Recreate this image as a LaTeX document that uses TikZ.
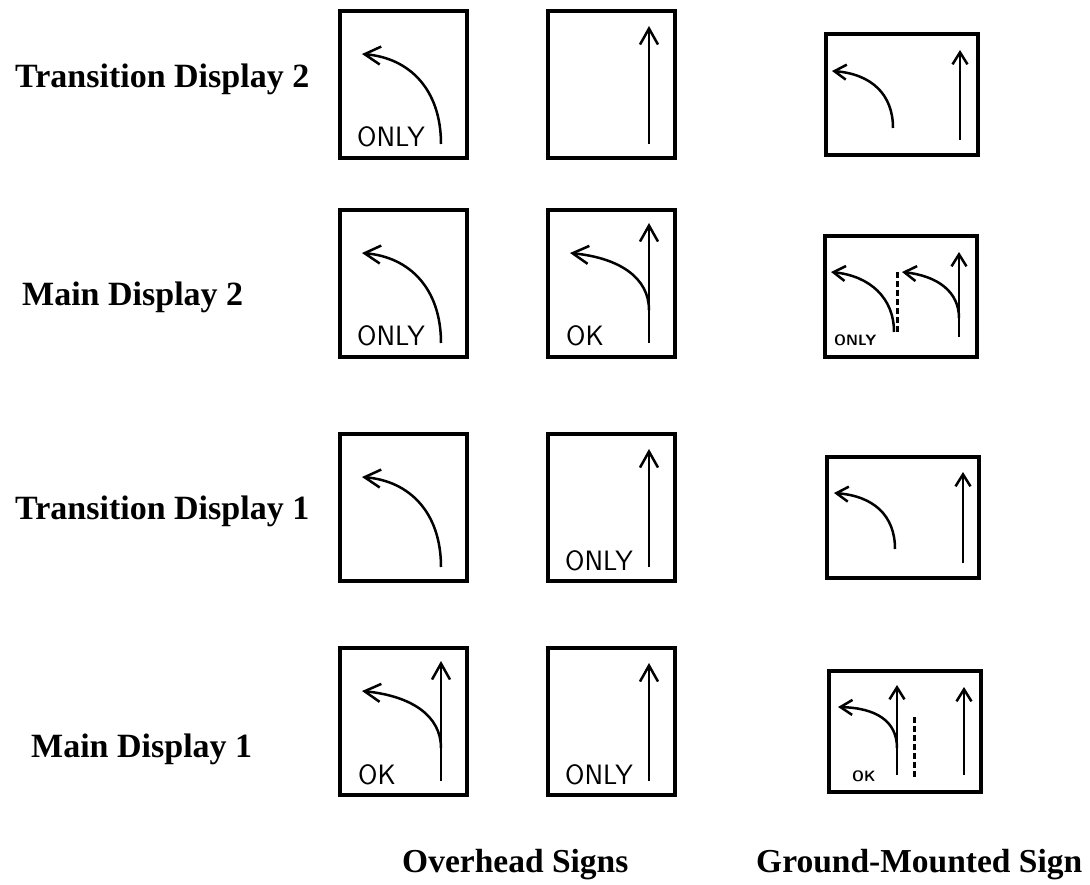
\documentclass[tikz,border=0pt]{standalone}
\usepackage{fontspec}
\setmainfont{Liberation Serif}
\usetikzlibrary{arrows.meta}
\tikzset{
  boxline/.style={line width=3.4pt},
  arr/.style={line width=2.5pt,-{Straight Barb[length=16pt,width=18pt,line width=2.5pt]}},
  garr/.style={line width=2.5pt,-{Straight Barb[length=12pt,width=15pt,line width=2.5pt]}},
  dashline/.style={line width=3pt,dash pattern=on 6pt off 3pt},
  rowlabel/.style={font=\fontsize{34}{36}\selectfont\bfseries,inner sep=0pt,anchor=base west},
  collabel/.style={font=\fontsize{33.5}{35}\selectfont\bfseries,inner sep=0pt,anchor=base west},
  bigtxt/.style={font=\fontsize{28}{28}\selectfont\sffamily,inner sep=0pt,anchor=base west},
  smalltxt/.style={font=\fontsize{15}{15}\selectfont\sffamily\bfseries,inner sep=0pt,anchor=base west},
  ohbox/.pic={\draw[boxline] (0,0) rectangle (127,147);},
  ohleft/.pic={\draw[arr] (101,133) .. controls (101,79) and (70,47) .. (22,43);},
  ohstraight/.pic={\draw[arr] (101,133) -- (101,15);},
  ohboth/.pic={\draw[arr] (101,133) -- (101,13);
               \draw[arr] (101,100) .. controls (101,68) and (72,48) .. (22,43);},
  ohonly/.pic={\node[bigtxt] at (17,136) {ONLY};},
  ohok/.pic={\node[bigtxt] at (18,136) {OK};},
  gbox/.pic={\draw[boxline] (0,0) rectangle (152,121);},
}
\begin{document}
\begin{tikzpicture}[x=1pt,y=-1pt]
\useasboundingbox[fill=white] (0,0) rectangle (1090,885);

% row labels
\node[rowlabel] (lab1) at (15,88) {Transition Display 2};
\node[rowlabel] (lab2) at (22,306) {Main Display 2};
\node[rowlabel] (lab3) at (15,519) {Transition Display 1};
\node[rowlabel] (lab4) at (31,757) {Main Display 1};

% column labels
\node[collabel] (colO) at (402,872) {Overhead Signs};
\node[collabel] (colG) at (756,872) {Ground-Mounted Sign};

% Row 1: Transition Display 2
\pic at (340,11) {ohbox}; \pic at (340,11) {ohleft}; \pic at (340,11) {ohonly};
\pic at (548,11) {ohbox}; \pic at (548,11) {ohstraight};
\begin{scope}[shift={(826,34)}]
  \pic {gbox};
  \draw[garr] (67,94) .. controls (67,60) and (45,40) .. (6,37);
  \draw[garr] (134,106) -- (134,16);
\end{scope}

% Row 2: Main Display 2
\pic at (340,210) {ohbox}; \pic at (340,210) {ohleft}; \pic at (340,210) {ohonly};
\pic at (548,210) {ohbox}; \pic at (548,210) {ohboth}; \pic at (548,210) {ohok};
\begin{scope}[shift={(825,236)}]
  \pic {gbox};
  \draw[garr] (69,96) .. controls (69,62) and (45,40) .. (6,36);
  \draw[dashline] (72,36) -- (72,97);
  \draw[garr] (134,101) -- (134,16);
  \draw[garr] (134,82) .. controls (134,56) and (113,40) .. (77,36);
  \node[smalltxt] (g2t) at (9,109) {ONLY};
\end{scope}

% Row 3: Transition Display 1
\pic at (340,434) {ohbox}; \pic at (340,434) {ohleft};
\pic at (548,434) {ohbox}; \pic at (548,434) {ohstraight}; \pic at (548,434) {ohonly};
\begin{scope}[shift={(827,457)}]
  \pic {gbox};
  \draw[garr] (68,92) .. controls (68,58) and (46,39) .. (7,36);
  \draw[garr] (136,106) -- (136,15);
\end{scope}

% Row 4: Main Display 1
\pic at (340,648) {ohbox}; \pic at (340,648) {ohboth}; \pic at (340,648) {ohok};
\pic at (548,648) {ohbox}; \pic at (548,648) {ohstraight}; \pic at (548,648) {ohonly};
\begin{scope}[shift={(829,671)}]
  \pic {gbox};
  \draw[garr] (68,104) -- (68,14);
  \draw[garr] (68,77) .. controls (68,50) and (47,37) .. (9,36);
  \draw[dashline] (85,46) -- (85,106);
  \draw[garr] (135,104) -- (135,16);
  \node[smalltxt] (g4t) at (23,110) {OK};
\end{scope}
\end{tikzpicture}
\end{document}
